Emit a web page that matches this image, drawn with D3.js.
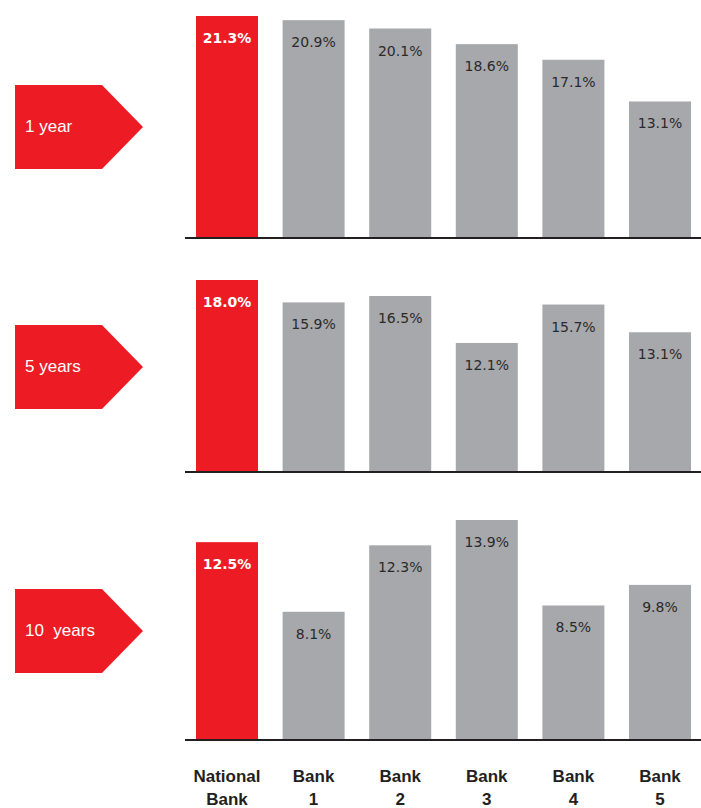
<!DOCTYPE html>
<html><head><meta charset="utf-8">
<script src="https://cdn.jsdelivr.net/npm/d3@7"></script>
<style>body{margin:0;background:#fff}svg{display:block}</style>
</head><body>
<svg id="c" width="701" height="808"></svg>
<script>
const banks = ["National Bank", "Bank 1", "Bank 2", "Bank 3", "Bank 4", "Bank 5"];
const bankLine1 = ["National", "Bank", "Bank", "Bank", "Bank", "Bank"];
const bankLine2 = ["Bank", "1", "2", "3", "4", "5"];
const periods = ["1 year", "5 years", "10  years"];
const returns1y = [21.3, 20.9, 20.1, 18.6, 17.1, 13.1];
const returns5y = [18.0, 15.9, 16.5, 12.1, 15.7, 13.1];
const returns10y = [12.5, 8.1, 12.3, 13.9, 8.5, 9.8];

const series = [returns1y, returns5y, returns10y];
const layout = [
  {base: 238, top: 16, mid: 127},
  {base: 472, top: 280, mid: 367},
  {base: 740, top: 520, mid: 631}
];
const RED = "#ED1C24", GRAY = "#A7A8AB";
const svg = d3.select("#c");
const x = d3.scaleBand().domain(banks).range([183.7, 703.3]).paddingInner(0.284).paddingOuter(0.142);

series.forEach((vals, i) => {
  const L = layout[i];
  const max = d3.max(vals);
  const y = d3.scaleLinear().domain([0, max]).range([L.base, L.top]);
  const g = svg.append("g");
  g.selectAll("rect").data(vals).join("rect")
    .attr("x", (d, j) => x(banks[j]))
    .attr("y", d => y(d))
    .attr("width", x.bandwidth())
    .attr("height", d => y(0) - y(d))
    .attr("fill", (d, j) => j === 0 ? RED : GRAY);
  g.selectAll("text.v").data(vals).join("text")
    .attr("class", "v")
    .attr("x", (d, j) => x(banks[j]) + x.bandwidth() / 2)
    .attr("y", d => y(d) + 27)
    .attr("text-anchor", "middle")
    .attr("font-family", "DejaVu Sans")
    .attr("font-size", 14)
    .attr("font-weight", (d, j) => j === 0 ? "bold" : "normal")
    .attr("fill", (d, j) => j === 0 ? "#fff" : "#2a2a2a")
    .text(d => d.toFixed(1) + "%");
  g.append("line")
    .attr("x1", 185).attr("x2", 701)
    .attr("y1", L.base).attr("y2", L.base)
    .attr("stroke", "#231F20").attr("stroke-width", 2);
  // arrow label
  const m = L.mid;
  g.append("path")
    .attr("d", `M15,${m - 42}L102,${m - 42}L143,${m}L102,${m + 42}L15,${m + 42}Z`)
    .attr("fill", RED);
  g.append("text")
    .attr("x", 25).attr("y", m + 5)
    .attr("font-family", "Liberation Sans")
    .attr("font-size", 17)
    .attr("fill", "#fff")
    .style("white-space", "pre")
    .text(periods[i]);
});

const lab = svg.append("g");
lab.selectAll("text.l1").data(bankLine1).join("text")
  .attr("class", "l1")
  .attr("x", (d, j) => x(banks[j]) + x.bandwidth() / 2)
  .attr("y", 782)
  .attr("text-anchor", "middle")
  .attr("font-family", "Liberation Sans").attr("font-weight", "bold")
  .attr("font-size", 17).attr("fill", "#231F20")
  .text(d => d);
lab.selectAll("text.l2").data(bankLine2).join("text")
  .attr("class", "l2")
  .attr("x", (d, j) => x(banks[j]) + x.bandwidth() / 2)
  .attr("y", 805)
  .attr("text-anchor", "middle")
  .attr("font-family", "Liberation Sans").attr("font-weight", "bold")
  .attr("font-size", 17).attr("fill", "#231F20")
  .text(d => d);
</script>
</body></html>
